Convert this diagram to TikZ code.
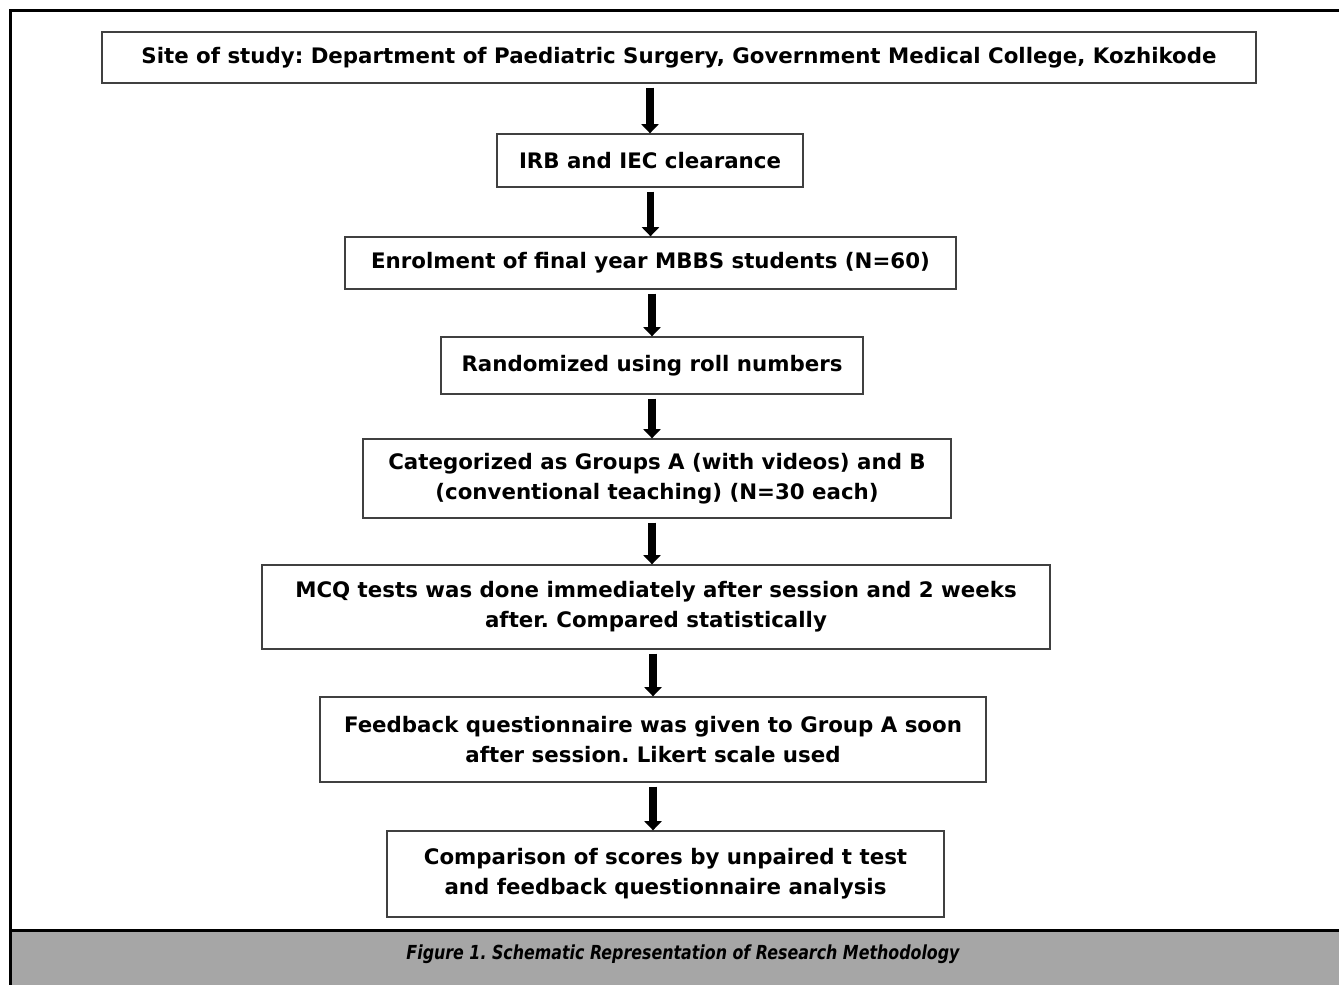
\documentclass[tikz,border=0pt]{standalone}
\usepackage{fontspec}
\setmainfont{DejaVu Sans}
\newfontfamily\capfont[FakeStretch=0.82]{DejaVu Sans}
\usepackage{tikz}
\usetikzlibrary{arrows.meta}
\usepackage{xcolor}
\colorlet{boxline}{black!75}
\definecolor{capgray}{HTML}{A6A6A6}
\frenchspacing

\begin{document}
\begin{tikzpicture}[x=0.75pt,y=-0.75pt,
    stepbox/.style={draw=boxline,line width=1pt,inner sep=0pt,align=center,
        font=\bfseries\fontsize{16}{22.5}\selectfont},
    flowarrow/.style={line width=5.5pt,-{Triangle[width=13pt,length=7pt]},shorten <=3pt}]
	\useasboundingbox (0,0) rectangle (1339,985);

 % ================================================================
 % frame and caption
 % ================================================================
	\fill[capgray] (10,930) rectangle (1339,985);
	\draw[line width=2.25pt] (1339,10) -- (10,10) -- (10,985);
	\draw[line width=2.25pt] (10,930) -- (1339,930);
	\node (cap) at (683,954) {\capfont\bfseries\itshape\fontsize{14.5}{16}\selectfont Figure 1. Schematic Representation of Research Methodology};

 % ================================================================
 % boxes
 % ================================================================
        \node[stepbox,minimum width=865.5pt,minimum height=38.25pt] (site) at (679,57.5)
            {Site of study: Department of Paediatric Surgery, Government Medical College, Kozhikode};
        \node[stepbox,minimum width=229.5pt,minimum height=39.75pt] (irb) at (650,160.5)
            {IRB and IEC clearance};
        \node[stepbox,minimum width=458.25pt,minimum height=39pt] (enrol) at (650.5,263)
            {Enrolment of final year MBBS students (N=60)};
        \node[stepbox,minimum width=316.5pt,minimum height=42.75pt] (random) at (652,365.5)
            {Randomized using roll numbers};
        \node[stepbox,minimum width=441pt,minimum height=59.25pt] (groups) at (657,478.5)
            {Categorized as Groups A (with videos) and B\\(conventional teaching) (N=30 each)};
        \node[stepbox,minimum width=591pt,minimum height=63pt] (mcq) at (656,607)
            {MCQ tests was done immediately after session and 2 weeks\\after. Compared statistically};
        \node[stepbox,minimum width=499.5pt,minimum height=63.75pt] (feedback) at (653,739.5)
            {Feedback questionnaire was given to Group A soon\\after session. Likert scale used};
        \node[stepbox,minimum width=417.75pt,minimum height=64.5pt] (compare) at (665.5,874)
            {Comparison of scores by unpaired t test\\and feedback questionnaire analysis};

        % arrows
        \draw[flowarrow] (irb.north |- site.south) -- (irb.north);
        \draw[flowarrow] (enrol.north |- irb.south) -- (enrol.north);
        \draw[flowarrow] (random.north |- enrol.south) -- (random.north);
        \draw[flowarrow] (random.south) -- (random.south |- groups.north);
        \draw[flowarrow] (random.south |- groups.south) -- (random.south |- mcq.north);
        \draw[flowarrow] (feedback.north |- mcq.south) -- (feedback.north);
        \draw[flowarrow] (feedback.south) -- (feedback.south |- compare.north);
\end{tikzpicture}
\end{document}
